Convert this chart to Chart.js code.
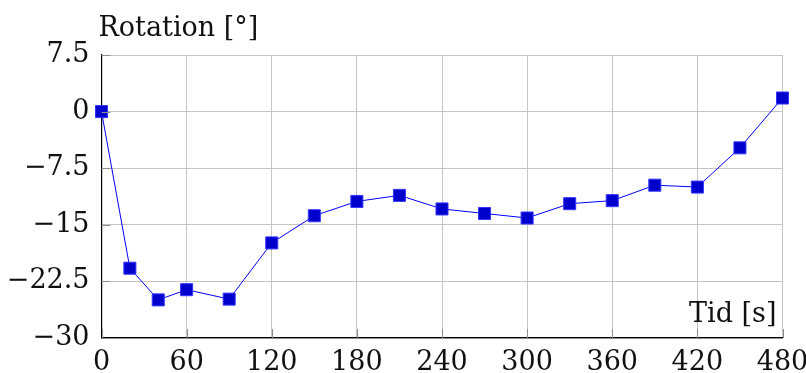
<!DOCTYPE html>
<html>
<head>
<meta charset="utf-8">
<script src="https://cdn.jsdelivr.net/npm/chart.js@4/dist/chart.umd.min.js"></script>
<style>
  html, body { margin: 0; padding: 0; background: #fff; }
  #wrap { width: 806px; height: 373px; position: relative; }
</style>
</head>
<body>
<div id="wrap"><canvas id="rotChart"></canvas></div>
<script>
const times = [0, 20, 40, 60, 90, 120, 150, 180, 210, 240, 270, 300, 330, 360, 390, 420, 450, 480];
const rotation = [0, -20.75, -24.95, -23.6, -24.85, -17.4, -13.8, -11.9, -11.1, -12.9, -13.5, -14.1, -12.2, -11.8, -9.75, -10.0, -4.8, 1.8];
const xTicks = [0, 60, 120, 180, 240, 300, 360, 420, 480];
const yTicks = [-30, -22.5, -15, -7.5, 0, 7.5];
const yLabel = 'Rotation [°]';
const xLabel = 'Tid [s]';

const FONT = '"DejaVu Serif", serif';

function fmt(v) {
    return (v < 0 ? '\u2212' : '') + String(Math.abs(v));
}

// axis captions and short inward tick marks
const decorations = {
    id: 'decorations',
    afterDraw(chart) {
        const ctx = chart.ctx;
        const area = chart.chartArea;
        const xs = chart.scales.x, ys = chart.scales.y;
        ctx.save();
        ctx.strokeStyle = '#8c8c8c';
        ctx.lineWidth = 1;
        ctx.beginPath();
        yTicks.forEach(v => {
            const py = Math.round(ys.getPixelForValue(v)) + 0.5;
            ctx.moveTo(area.left, py);
            ctx.lineTo(area.left + 9, py);
        });
        xTicks.forEach(v => {
            const px = Math.round(xs.getPixelForValue(v)) + 0.5;
            ctx.moveTo(px, area.bottom);
            ctx.lineTo(px, area.bottom - 9);
        });
        ctx.stroke();

        ctx.fillStyle = '#111';
        ctx.font = '27px ' + FONT;
        ctx.textBaseline = 'alphabetic';
        ctx.textAlign = 'left';
        ctx.fillText(yLabel, area.left - 3, 36);
        ctx.textAlign = 'right';
        ctx.fillText(xLabel, area.right - 6, 322);
        ctx.restore();
    }
};

// keep label overhang from shrinking the plot area
function noOverhang(s) {
    s.paddingLeft = 0;
    s.paddingRight = 0;
    s.paddingTop = 0;
    s.paddingBottom = 0;
}

new Chart(document.getElementById('rotChart').getContext('2d'), {
    type: 'line',
    data: {
        datasets: [{
            data: times.map((t, i) => ({ x: t, y: rotation[i] })),
            borderColor: '#0000ff',
            borderWidth: 1,
            pointStyle: 'rect',
            pointRadius: 8.5,
            pointHoverRadius: 8.5,
            pointBackgroundColor: '#0000cc',
            pointBorderColor: '#3333ff',
            pointBorderWidth: 1,
            tension: 0,
            clip: false
        }]
    },
    options: {
        responsive: true,
        maintainAspectRatio: false,
        animation: false,
        layout: { padding: { top: 55, right: 23.5, left: 0, bottom: 0 } },
        plugins: {
            legend: { display: false },
            tooltip: { enabled: false }
        },
        scales: {
            x: {
                type: 'linear',
                min: 0,
                max: 480,
                afterFit: s => { s.height = 35; noOverhang(s); },
                afterBuildTicks: s => { s.ticks = xTicks.map(v => ({ value: v })); },
                grid: { color: '#c4c4c4', lineWidth: 1, drawTicks: false },
                border: { display: true, color: '#000', width: 1.2 },
                ticks: {
                    padding: 9,
                    color: '#111',
                    font: { family: FONT, size: 27 },
                    maxRotation: 0,
                    callback: v => fmt(v)
                }
            },
            y: {
                min: -30,
                max: 7.5,
                afterFit: s => { s.width = 101.5; noOverhang(s); },
                afterBuildTicks: s => { s.ticks = yTicks.map(v => ({ value: v })); },
                grid: { color: '#c4c4c4', lineWidth: 1, drawTicks: false },
                border: { display: true, color: '#000', width: 1.2 },
                ticks: {
                    padding: 12,
                    color: '#111',
                    font: { family: FONT, size: 27 },
                    callback: v => fmt(v)
                }
            }
        }
    },
    plugins: [decorations]
});
</script>
</body>
</html>
